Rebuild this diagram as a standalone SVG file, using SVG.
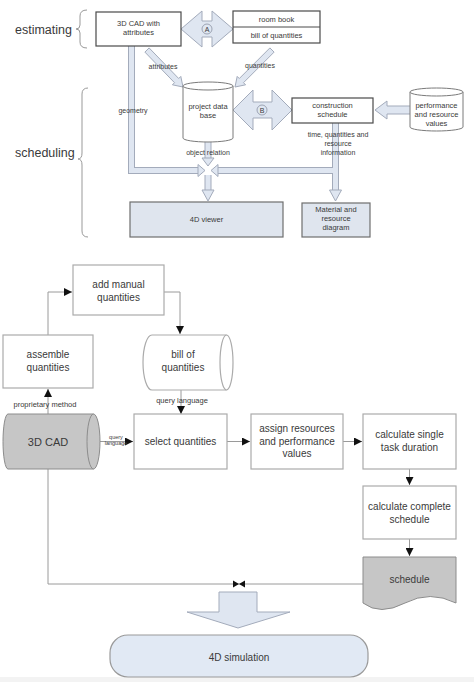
<svg xmlns="http://www.w3.org/2000/svg" width="474" height="682" viewBox="0 0 474 682">
<style>
text{font-family:"Liberation Sans",Arial,sans-serif;fill:#3a3a3a;text-anchor:middle}
.t7{font-size:7.5px}
.t6{font-size:7px}
.t10{font-size:10px}
.t12{font-size:12.5px;text-anchor:start}
.box{fill:#fff;stroke:#4a4a4a;stroke-width:1.2}
.hol{fill:#dfe6f1;stroke:#a3abbb;stroke-width:1}
.bandO{fill:none;stroke:#a3abbb;stroke-width:7}
.bandI{fill:none;stroke:#dfe6f1;stroke-width:5}
.cyl{fill:#fff;stroke:#7a7a7a;stroke-width:1}
.brace{fill:none;stroke:#999;stroke-width:1}
.bx{fill:#fff;stroke:#ababab;stroke-width:1.2}
.gray{fill:#c6c6c6;stroke:#8c8c8c;stroke-width:1}
.ln{fill:none;stroke:#9a9a9a;stroke-width:1}
</style>
<defs>
<marker id="ah" viewBox="0 0 8 8" refX="8" refY="4" markerWidth="8" markerHeight="8" markerUnits="userSpaceOnUse" orient="auto">
<path d="M0,0 L8,4 L0,8 Z" fill="#111"/>
</marker>
</defs>
<rect width="474" height="682" fill="#fff"/>
<rect x="0" y="677" width="474" height="5" fill="#f3f3f3"/>

<!-- side labels -->
<g id="lbl-estimating">
<text class="t12" x="15" y="34">estimating</text>
<path class="brace" d="M87,10 Q80,10 80,16 V25 Q80,29 76,29 Q80,29 80,33 V42 Q80,48 87,48"/>
</g>
<g id="lbl-scheduling">
<text class="t12" x="15" y="157">scheduling</text>
<path class="brace" d="M88,88 Q82,88 82,94 V153 Q82,159 78,159 Q82,159 82,165 V231 Q82,237 88,237"/>
</g>

<!-- top connectors -->
<g id="top-connectors">
<path class="bandO" d="M131.5,46 V170.5 H199 M335.5,123 V191 M335.5,170.5 H217 M208,139 V159 M208,175 V191"/>
<path class="bandI" d="M131.5,46 V170.5 H199 M335.5,123 V191 M335.5,170.5 H217 M208,139 V159 M208,175 V191"/>
<polygon class="hol" points="198,164.5 205,170.5 198,176.5"/>
<polygon class="hol" points="218,164.5 211,170.5 218,176.5"/>
<polygon class="hol" points="202,158 208,166 214,158"/>
<polygon class="hol" points="202,190 208,201 214,190"/>
<polygon class="hol" points="329.5,190 335.5,201 341.5,190"/>
<polygon class="hol" points="149.1,47.9 178.7,78.5 180.8,76.4 183,87 172.4,84.8 174.5,82.7 144.9,52.1"/>
<polygon class="hol" points="269.9,47.9 239.3,78.5 237.2,76.4 235,87 245.6,84.8 243.5,82.7 274.1,52.1"/>
<polygon class="hol" points="181,29 202,11 202,21 212,21 212,11 233,29 212,47 212,37 202,37 202,47"/>
<circle cx="207" cy="29" r="5" fill="#dfe6f1" stroke="#8a92a2" stroke-width="0.8"/>
<text class="t6" x="207" y="31.5">A</text>
<polygon class="hol" points="233,110 253,90 253,102 272,102 272,90 292,110 272,130 272,118 253,118 253,130"/>
<circle cx="262" cy="110" r="5" fill="#dfe6f1" stroke="#8a92a2" stroke-width="0.8"/>
<text class="t6" x="262" y="112.5">B</text>
<polygon class="hol" points="411,106 387,106 387,101 375,110 387,119 387,114 411,114"/>
<text class="t6" x="163" y="69">attributes</text>
<text class="t6" x="260" y="68">quantities</text>
<text class="t6" x="133" y="113">geometry</text>
<text class="t6" x="208" y="155">object relation</text>
<text class="t6" x="338" y="137">time, quantities and</text>
<text class="t6" x="338" y="146">resource</text>
<text class="t6" x="338" y="155">information</text>
</g>

<!-- top nodes -->
<g id="n-cad-attr">
<rect class="box" x="96" y="12" width="85" height="34"/>
<text class="t7" x="138.5" y="26">3D CAD with</text>
<text class="t7" x="138.5" y="35">attributes</text>
</g>
<g id="n-roombook">
<rect class="box" x="233" y="11" width="87" height="32"/>
<line x1="233" y1="27" x2="320" y2="27" stroke="#4a4a4a" stroke-width="1"/>
<text class="t7" x="276.5" y="22">room book</text>
<text class="t7" x="276.5" y="38">bill of quantities</text>
</g>
<g id="n-db">
<path class="cyl" d="M183,86 V138 A25,4 0 0 0 233,138 V86"/>
<ellipse class="cyl" cx="208" cy="86" rx="25" ry="4"/>
<text class="t7" x="208" y="109">project data</text>
<text class="t7" x="208" y="118">base</text>
</g>
<g id="n-constr">
<rect class="box" x="292" y="98" width="81" height="25"/>
<text class="t7" x="332.5" y="108">construction</text>
<text class="t7" x="332.5" y="117">schedule</text>
</g>
<g id="n-perf">
<path class="cyl" d="M410,92 V127 A26.5,4 0 0 0 463,127 V92"/>
<ellipse class="cyl" cx="436.5" cy="92" rx="26.5" ry="4"/>
<text class="t7" x="436.5" y="108">performance</text>
<text class="t7" x="436.5" y="117">and resource</text>
<text class="t7" x="436.5" y="126">values</text>
</g>
<g id="n-4dviewer">
<rect x="130" y="202" width="153" height="35" fill="#dfe5ee" stroke="#6e6e6e" stroke-width="1.2"/>
<text class="t7" x="206.5" y="222">4D viewer</text>
</g>
<g id="n-material">
<rect x="302" y="203" width="68" height="34" fill="#dfe5ee" stroke="#6e6e6e" stroke-width="1.2"/>
<text class="t7" x="336" y="212">Material and</text>
<text class="t7" x="336" y="221">resource</text>
<text class="t7" x="336" y="230">diagram</text>
</g>

<!-- bottom connectors -->
<g id="bottom-connectors">
<path class="ln" d="M48,335 V292 H72" marker-end="url(#ah)"/>
<path class="ln" d="M164,292 H180 V334" marker-end="url(#ah)"/>
<path class="ln" d="M48,414 V389" marker-end="url(#ah)"/>
<path class="ln" d="M181,390 V414" marker-end="url(#ah)"/>
<path class="ln" d="M100,441.5 H133" marker-end="url(#ah)"/>
<path class="ln" d="M227,441.5 H250" marker-end="url(#ah)"/>
<path class="ln" d="M343,441.5 H362" marker-end="url(#ah)"/>
<path class="ln" d="M409.5,469 V485" marker-end="url(#ah)"/>
<path class="ln" d="M409.5,539 V556" marker-end="url(#ah)"/>
<path class="ln" d="M48,469 V584 H363"/>
<polygon points="233,580.5 239,584 233,587.5" fill="#111"/>
<polygon points="245,580.5 239,584 245,587.5" fill="#111"/>
<polygon class="hol" points="219,592 257,592 257,612 290,612 238,628 187,612 219,612"/>
<text class="t7" x="45" y="407">proprietary method</text>
<text class="t7" x="182" y="403">query language</text>
<text x="116" y="439" style="font-size:5.5px">query</text>
<text x="116" y="445" style="font-size:5.5px">language</text>
</g>

<!-- bottom nodes -->
<g id="n-addmanual">
<rect class="bx" x="73" y="265" width="91" height="50"/>
<text class="t10" x="118.5" y="288">add manual</text>
<text class="t10" x="118.5" y="301">quantities</text>
</g>
<g id="n-assemble">
<rect class="bx" x="3" y="335" width="90" height="53"/>
<text class="t10" x="48" y="358">assemble</text>
<text class="t10" x="48" y="371">quantities</text>
</g>
<g id="n-boq">
<path class="bx" d="M152,335 H226.5 A6.5,27.5 0 0 1 226.5,390 H152 A9,27.5 0 0 1 152,335 Z"/>
<path class="ln" d="M226.5,335 A6.5,27.5 0 0 0 226.5,390" style="stroke:#ababab;stroke-width:1.2"/>
<text class="t10" x="183" y="358">bill of</text>
<text class="t10" x="183" y="371">quantities</text>
</g>
<g id="n-3dcad">
<path class="gray" d="M8,414 H93.5 A6.5,27.5 0 0 1 93.5,469 H8 A5,27.5 0 0 1 8,414 Z"/>
<path d="M93.5,414 A6.5,27.5 0 0 0 93.5,469" fill="none" stroke="#8c8c8c" stroke-width="1"/>
<text class="t10" x="48" y="445.5" style="font-size:11px">3D CAD</text>
</g>
<g id="n-select">
<rect class="bx" x="134" y="414" width="93" height="55"/>
<text class="t10" x="180.5" y="445">select quantities</text>
</g>
<g id="n-assign">
<rect class="bx" x="251" y="414" width="92" height="55"/>
<text class="t10" x="297" y="432">assign resources</text>
<text class="t10" x="297" y="445">and performance</text>
<text class="t10" x="297" y="457">values</text>
</g>
<g id="n-single">
<rect class="bx" x="363" y="414" width="93" height="55"/>
<text class="t10" x="409.5" y="438">calculate single</text>
<text class="t10" x="409.5" y="451">task duration</text>
</g>
<g id="n-complete">
<rect class="bx" x="363" y="486" width="93" height="53"/>
<text class="t10" x="409.5" y="510">calculate complete</text>
<text class="t10" x="409.5" y="523">schedule</text>
</g>
<g id="n-schedule">
<path class="gray" d="M363,557 H456 V603 Q430,590 405,603 T363,603 Z"/>
<text class="t10" x="409.5" y="583">schedule</text>
</g>
<g id="n-4dsim">
<rect x="110" y="635" width="258" height="42" rx="18" fill="#e1e9f4" stroke="#9a9a9a" stroke-width="1.2"/>
<text class="t10" x="239" y="660.5">4D simulation</text>
</g>
</svg>
